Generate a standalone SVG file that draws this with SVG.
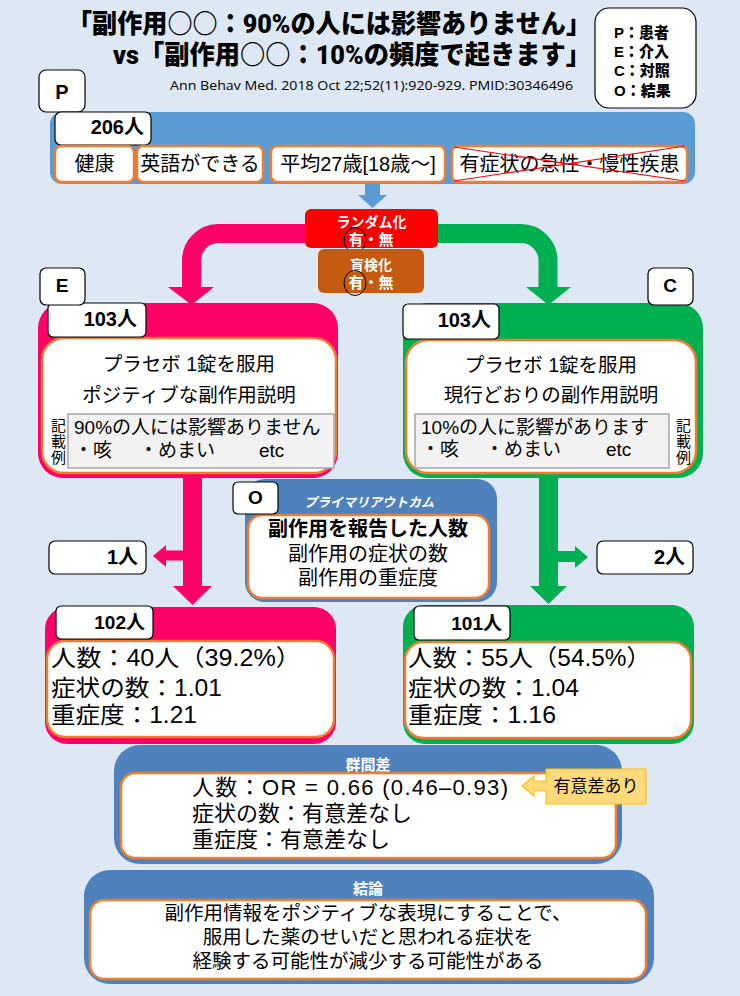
<svg xmlns="http://www.w3.org/2000/svg" width="740" height="996" viewBox="0 0 740 996">
<style>
text{font-family:"Liberation Sans","Noto Sans CJK JP",sans-serif;fill:#000}
.jp{font-family:Roboto,"Noto Sans CJK JP",sans-serif}
.b{font-weight:700}
.k{font-weight:900}
.w{fill:#fff;font-weight:700}
.c{text-anchor:middle}
.e{text-anchor:end}
.v{writing-mode:vertical-rl;font-size:15px;letter-spacing:1px}
.lbl{fill:#fff;stroke:#000;stroke-width:1.2}
.ora{fill:#fff;stroke:#ED7D31;stroke-width:2.5}
.gray{fill:#F2F2F2;stroke:#A6A6A6;stroke-width:1.5}
.dk{fill:#4F81BD}
.pk{fill:#FF0066}
.gr{fill:#00B050}
.ring{fill:none;stroke:#000;stroke-width:1}
</style>
<rect width="740" height="996" fill="#DDE8F4"/>

<g id="title">
<text font-size="26" class="k jp"><tspan x="67" y="33" textLength="524" lengthAdjust="spacingAndGlyphs">「副作用○○：90%の人には影響ありません」</tspan><tspan x="113" y="64" textLength="478" lengthAdjust="spacingAndGlyphs">vs「副作用○○：10%の頻度で起きます」</tspan></text>
<text x="170" y="90" font-size="13" style="font-family:'Open Sans','Liberation Sans',sans-serif" textLength="403" lengthAdjust="spacingAndGlyphs">Ann Behav Med. 2018 Oct 22;52(11):920-929. PMID:30346496</text>
</g>

<g id="legend">
<rect x="595" y="8" width="101" height="100" rx="14" class="lbl"/>
<text font-size="15" class="k"><tspan x="614" y="38">P：患者</tspan><tspan x="614" y="57">E：介入</tspan><tspan x="614" y="76">C：対照</tspan><tspan x="614" y="96">O：結果</tspan></text>
</g>

<g id="connectors">
<path d="M365 183 H380 V195 H387 L372.5 208 L358 195 H365 Z" fill="#5B9BD5"/>
<path d="M312 233.5 H218 A27 27 0 0 0 191.5 260.5 V289" fill="none" stroke="#FF0066" stroke-width="19"/>
<path d="M168 287 H214 L191.5 305 Z" class="pk"/>
<path d="M431 233.5 H521 A27 27 0 0 1 548 260.5 V289" fill="none" stroke="#00B050" stroke-width="19"/>
<path d="M526 287 H571 L548.5 305 Z" class="gr"/>
<path d="M192.5 476 V588" fill="none" stroke="#FF0066" stroke-width="19"/>
<path d="M192.5 555.5 H163" fill="none" stroke="#FF0066" stroke-width="10"/>
<path d="M166 545 V567 L153 556 Z" class="pk"/>
<path d="M173 586 H212 L192.5 605 Z" class="pk"/>
<path d="M548.5 476 V588" fill="none" stroke="#00B050" stroke-width="19"/>
<path d="M548.5 556.5 H577" fill="none" stroke="#00B050" stroke-width="11"/>
<path d="M575 546 V568 L588 557 Z" class="gr"/>
<path d="M530 586 H567 L548.5 604 Z" class="gr"/>
</g>

<g id="P-label">
<rect x="39" y="70" width="46" height="42" rx="7" class="lbl"/>
<text x="62" y="99" font-size="20" class="b c">P</text>
</g>

<g id="P">
<rect x="50" y="112" width="645" height="72" rx="12" fill="#5B9BD5"/>
<rect x="55" y="112" width="96" height="33" rx="6" class="lbl"/>
<text x="144" y="134" font-size="20" class="b e">206人</text>
<rect x="55" y="146" width="79" height="36" rx="6" class="ora"/>
<text x="94.5" y="171" font-size="20" class="c">健康</text>
<rect x="137" y="146" width="126" height="36" rx="6" class="ora"/>
<text x="200" y="171" font-size="20" class="c">英語ができる</text>
<rect x="271" y="146" width="174" height="36" rx="6" class="ora"/>
<text x="358" y="171" font-size="20" class="c">平均27歳[18歳～]</text>
<rect x="452" y="146" width="235" height="36" rx="6" class="ora"/>
<text x="569.5" y="171" font-size="20" class="c">有症状の急性・慢性疾患</text>
<path d="M454 147 L685 181 M454 181 L685 146" stroke="#FF0000" stroke-width="1.2"/>
</g>

<g id="randomization">
<rect x="305" y="209" width="133" height="39" rx="6" fill="#FF0000"/>
<text class="w c"><tspan x="371.5" y="227" font-size="14">ランダム化</tspan><tspan x="371" y="245" font-size="15">有・無</tspan></text>
<ellipse cx="355" cy="240" rx="11" ry="12.5" class="ring"/>
</g>

<g id="blinding">
<rect x="318" y="249" width="106" height="44" rx="6" fill="#C55A11"/>
<text class="w c"><tspan x="371" y="270" font-size="14">盲検化</tspan><tspan x="371" y="288" font-size="15">有・無</tspan></text>
<ellipse cx="355" cy="283" rx="11" ry="12.5" class="ring"/>
</g>

<g id="E">
<rect x="38" y="303" width="300" height="175" rx="25" class="pk"/>
<rect x="42" y="338" width="294" height="135" rx="22" class="ora"/>
<rect x="48" y="303" width="98" height="34" rx="5" class="lbl"/>
<text x="137" y="326" font-size="20" class="b e">103人</text>
<text font-size="19.5" class="c"><tspan x="189" y="371">プラセボ 1錠を服用</tspan><tspan x="189" y="402">ポジティブな副作用説明</tspan></text>
<rect x="68" y="414" width="266" height="54" class="gray"/>
<text font-size="19"><tspan x="74" y="434">90%の人には影響ありません</tspan><tspan x="74" y="457">・咳</tspan><tspan x="139" y="457">・めまい</tspan><tspan x="259" y="457">etc</tspan></text>
<text x="57.5" y="418" class="v">記載例</text>
</g>
<g id="E-label">
<rect x="40" y="268" width="45" height="37" rx="6" class="lbl"/>
<text x="62" y="292" font-size="19" class="b c">E</text>
</g>

<g id="C">
<rect x="403" y="303" width="300" height="175" rx="25" class="gr"/>
<rect x="406" y="340" width="290" height="133" rx="22" class="ora"/>
<rect x="403" y="304" width="96" height="35" rx="5" class="lbl"/>
<text x="491" y="327" font-size="20" class="b e">103人</text>
<text font-size="19.5" class="c"><tspan x="551" y="372">プラセボ 1錠を服用</tspan><tspan x="551" y="402">現行どおりの副作用説明</tspan></text>
<rect x="415" y="414" width="254" height="54" class="gray"/>
<text font-size="19"><tspan x="421" y="434">10%の人に影響があります</tspan><tspan x="421" y="456">・咳</tspan><tspan x="485" y="456">・めまい</tspan><tspan x="606" y="456">etc</tspan></text>
<text x="682.5" y="418" class="v">記載例</text>
</g>
<g id="C-label">
<rect x="648" y="268" width="45" height="37" rx="6" class="lbl"/>
<text x="670" y="292" font-size="19" class="b c">C</text>
</g>

<g id="dropout-E">
<rect x="49" y="541" width="97" height="33" rx="6" class="lbl"/>
<text x="138" y="564" font-size="20" class="b e">1人</text>
</g>
<g id="dropout-C">
<rect x="597" y="541" width="96" height="33" rx="6" class="lbl"/>
<text x="685" y="564" font-size="20" class="b e">2人</text>
</g>

<g id="O">
<rect x="245" y="479" width="252" height="123" rx="20" class="dk"/>
<text x="369" y="507" font-size="13" class="w c" font-style="italic">プライマリアウトカム</text>
<rect x="248" y="515" width="241" height="83" rx="14" class="ora"/>
<text font-size="20" class="c"><tspan x="368" y="536" font-weight="700">副作用を報告した人数</tspan><tspan x="368" y="561">副作用の症状の数</tspan><tspan x="368" y="585">副作用の重症度</tspan></text>
<rect x="233" y="482" width="45" height="32" rx="5" class="lbl"/>
<text x="255.5" y="504" font-size="19" class="b c">O</text>
</g>

<g id="result-E">
<rect x="45" y="607" width="291" height="137" rx="22" class="pk"/>
<rect x="47" y="641" width="287" height="96" rx="18" class="ora"/>
<rect x="56" y="606" width="97" height="33" rx="5" class="lbl"/>
<text x="145" y="629" font-size="19" class="b e">102人</text>
<text font-size="23"><tspan x="51" y="666" textLength="250" lengthAdjust="spacingAndGlyphs">人数：40人（39.2%）</tspan><tspan x="51" y="696" textLength="171" lengthAdjust="spacingAndGlyphs">症状の数：1.01</tspan><tspan x="51" y="723" textLength="146" lengthAdjust="spacingAndGlyphs">重症度：1.21</tspan></text>
</g>

<g id="result-C">
<rect x="403" y="605" width="291" height="139" rx="22" class="gr"/>
<rect x="405" y="642" width="286" height="96" rx="18" class="ora"/>
<rect x="414" y="606" width="96" height="34" rx="5" class="lbl"/>
<text x="502" y="630" font-size="19" class="b e">101人</text>
<text font-size="23"><tspan x="408" y="666" textLength="243" lengthAdjust="spacingAndGlyphs">人数：55人（54.5%）</tspan><tspan x="408" y="696" textLength="171" lengthAdjust="spacingAndGlyphs">症状の数：1.04</tspan><tspan x="408" y="723" textLength="148" lengthAdjust="spacingAndGlyphs">重症度：1.16</tspan></text>
</g>

<g id="difference">
<rect x="114" y="745" width="508" height="119" rx="26" class="dk"/>
<text x="368" y="770" font-size="15" class="w c">群間差</text>
<rect x="121" y="773" width="495" height="85" rx="14" class="ora"/>
<text font-size="22"><tspan x="192" y="795" textLength="316" lengthAdjust="spacing">人数：OR = 0.66 (0.46–0.93)</tspan><tspan x="192" y="821">症状の数：有意差なし</tspan><tspan x="192" y="847">重症度：有意差なし</tspan></text>
</g>

<g id="significant">
<path d="M546 769 H646 V804 H546 V791 H534 V796 L522 786 L534 776 V781 H546 Z" fill="#FFD97A" stroke="#FFC000" stroke-width="1.2"/>
<text x="596" y="792" font-size="17" class="c">有意差あり</text>
</g>

<g id="conclusion">
<rect x="84" y="870" width="570" height="114" rx="26" class="dk"/>
<text x="368" y="894" font-size="15" class="w c">結論</text>
<rect x="90" y="900" width="556" height="79" rx="14" class="ora"/>
<text font-size="19.5" class="c"><tspan x="368" y="920">副作用情報をポジティブな表現にすることで、</tspan><tspan x="368" y="944">服用した薬のせいだと思われる症状を</tspan><tspan x="368" y="968">経験する可能性が減少する可能性がある</tspan></text>
</g>
</svg>
